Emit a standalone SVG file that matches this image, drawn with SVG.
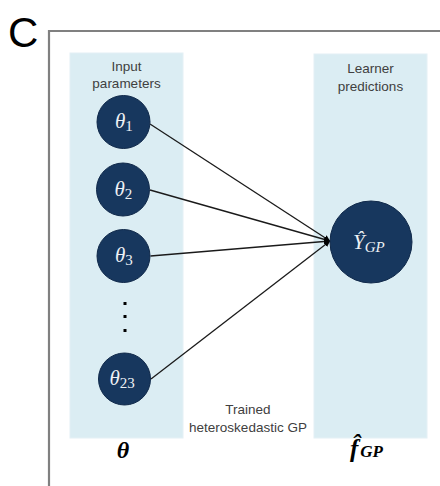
<svg xmlns="http://www.w3.org/2000/svg" width="440" height="486" viewBox="0 0 440 486">
  <style>
    .panel { fill: #dbedf3; stroke: #e4f0f5; stroke-width: 1; }
    .node { fill: #17375e; stroke: #10294a; stroke-width: 1; }
    .lbl { font-family: "Liberation Sans", Arial, sans-serif; font-size: 13.5px; fill: #404040; text-anchor: middle; }
    .math { font-family: "Liberation Serif", "DejaVu Serif", serif; font-style: italic; fill: #eef1f5; }
    .big { font-family: "Liberation Serif", "DejaVu Serif", serif; font-style: italic; font-weight: bold; fill: #000000; }
    .edge { stroke: #1a1a1a; stroke-width: 1.3; fill: none; marker-end: url(#arrow); }
  </style>
  <defs>
    <marker id="arrow" viewBox="0 0 10 10" refX="10" refY="5" markerWidth="6" markerHeight="6" orient="auto" markerUnits="userSpaceOnUse">
      <path d="M0,0 L10,5 L0,10 z" fill="#000000"/>
    </marker>
  </defs>
  <rect width="440" height="486" fill="#ffffff"/>

  <text x="8" y="47" font-family="Liberation Sans, Arial, sans-serif" font-size="42" fill="#000000">C</text>
  <polyline points="49,500 49,31 445,31" fill="none" stroke="#808080" stroke-width="2.2"/>

  <g id="panel-left">
    <rect class="panel" x="70" y="53" width="113" height="385"/>
    <text class="lbl" x="126.5" y="71">Input</text>
    <text class="lbl" x="126.5" y="88">parameters</text>
  </g>
  <g id="panel-right">
    <rect class="panel" x="314" y="54" width="113" height="384"/>
    <text class="lbl" x="370.5" y="73">Learner</text>
    <text class="lbl" x="370.5" y="91">predictions</text>
  </g>

  <g id="connectors">
    <line class="edge" x1="150" y1="124" x2="330" y2="241"/>
    <line class="edge" x1="150" y1="190" x2="330" y2="241"/>
    <line class="edge" x1="150.5" y1="256" x2="330" y2="241"/>
    <line class="edge" x1="151" y1="379" x2="330" y2="241"/>
  </g>

  <g id="theta1">
    <circle class="node" cx="123.5" cy="122" r="26.5"/>
    <text class="math" x="115" y="128" font-size="21">θ<tspan font-size="15" dy="3" font-style="normal">1</tspan></text>
  </g>
  <g id="theta2">
    <circle class="node" cx="123" cy="189.5" r="26.5"/>
    <text class="math" x="114.5" y="195.5" font-size="21">θ<tspan font-size="15" dy="3" font-style="normal">2</tspan></text>
  </g>
  <g id="theta3">
    <circle class="node" cx="123.5" cy="256" r="26.5"/>
    <text class="math" x="115" y="262" font-size="21">θ<tspan font-size="15" dy="3" font-style="normal">3</tspan></text>
  </g>
  <g id="dots">
    <rect x="123.5" y="302" width="3" height="3" fill="#000000"/>
    <rect x="123.5" y="315" width="3" height="3" fill="#000000"/>
    <rect x="123.5" y="329" width="3" height="3" fill="#000000"/>
  </g>
  <g id="theta23">
    <circle class="node" cx="124.5" cy="379" r="26"/>
    <text class="math" x="109.5" y="385" font-size="21">θ<tspan font-size="15" dy="3" font-style="normal">23</tspan></text>
  </g>
  <g id="yhat">
    <circle class="node" cx="371" cy="242" r="41"/>
    <text class="math" x="353" y="249" font-size="21">Ŷ<tspan font-size="15" dy="3">GP</tspan></text>
  </g>

  <g id="label-gp">
    <text class="lbl" x="248" y="414" font-size="13">Trained</text>
    <text class="lbl" x="248" y="432" font-size="13">heteroskedastic GP</text>
  </g>

  <g id="label-theta">
    <text class="big" x="123" y="458" font-size="24" text-anchor="middle">θ</text>
  </g>
  <g id="label-fgp">
    <text class="big" x="350" y="457" font-size="25">f̂<tspan font-size="17" dx="2">GP</tspan></text>
  </g>
</svg>
